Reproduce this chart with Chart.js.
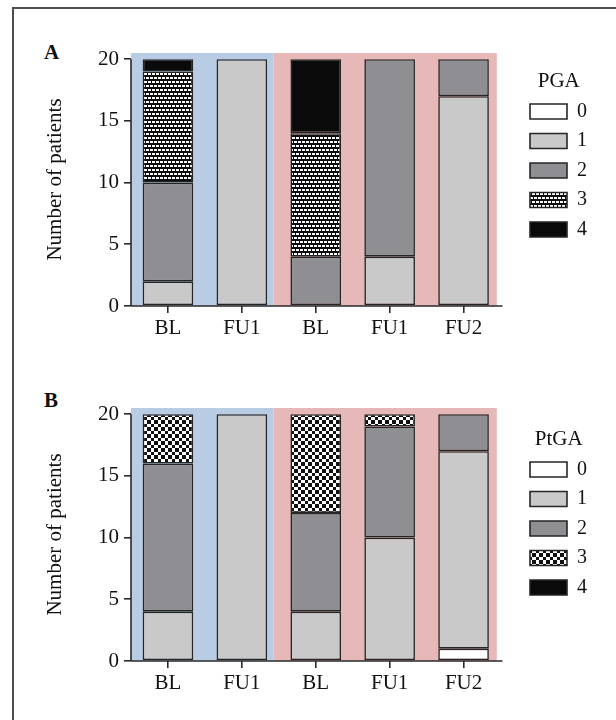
<!DOCTYPE html>
<html><head><meta charset="utf-8">
<script src="https://cdn.jsdelivr.net/npm/chart.js@4.4.0/dist/chart.umd.min.js"></script>
<style>
html,body{margin:0;padding:0;background:#fff;}
#page{position:relative;width:616px;height:720px;overflow:hidden;background:#fff;}
#frame{position:absolute;left:12px;top:7px;right:-10px;bottom:-10px;border-left:2px solid #4d4d4d;border-top:2px solid #4d4d4d;}
.lab{position:absolute;font-family:"Liberation Serif","Times New Roman",serif;font-weight:bold;font-size:21px;line-height:1;color:#111;}
canvas{position:absolute;left:0;}
</style></head><body>
<div id="page">
<div id="frame"></div>
<div class="lab" style="left:44px;top:42px">A</div>
<div class="lab" style="left:44px;top:390px">B</div>
<canvas id="cA" width="616" height="350" style="top:0;width:616px;height:350px"></canvas>
<canvas id="cB" width="616" height="370" style="top:350px;width:616px;height:370px"></canvas>
</div>
<script>
// ---- data ----
const categories = ['BL', 'FU1', 'BL', 'FU1', 'FU2'];
const levels = ['0', '1', '2', '3', '4'];
const yTicks = [0, 5, 10, 15, 20];

const pga0 = [0, 0, 0, 0, 0];
const pga1 = [2, 20, 0, 4, 17];
const pga2 = [8, 0, 4, 16, 3];
const pga3 = [9, 0, 10, 0, 0];
const pga4 = [1, 0, 6, 0, 0];

const ptga0 = [0, 0, 0, 0, 1];
const ptga1 = [4, 20, 4, 10, 16];
const ptga2 = [12, 0, 8, 9, 3];
const ptga3 = [4, 0, 8, 1, 0];
const ptga4 = [0, 0, 0, 0, 0];

// ---- styles ----
const SERIF = "'Liberation Serif', 'Times New Roman', serif";
const INK = '#111';
const LINE = '#262626';

function makePattern(w, h, draw) {
  const c = document.createElement('canvas');
  c.width = w; c.height = h;
  const g = c.getContext('2d');
  draw(g);
  return document.createElement('canvas').getContext('2d').createPattern(c, 'repeat');
}
// small white rectangles on black, offset rows (PGA level 3)
const brickPat = makePattern(8, 8, g => {
  g.fillStyle = '#0c0c0c'; g.fillRect(0, 0, 8, 8);
  g.fillStyle = '#ffffff';
  g.fillRect(0, 1, 3, 2); g.fillRect(4, 1, 3, 2);
  g.fillRect(2, 5, 3, 2); g.fillRect(6, 5, 2, 2); g.fillRect(0, 5, 1, 2);
});
// checkerboard (PtGA level 3)
const checkPat = makePattern(7, 7, g => {
  g.fillStyle = '#ffffff'; g.fillRect(0, 0, 7, 7);
  g.fillStyle = '#111111';
  g.fillRect(0, 0, 4, 4); g.fillRect(4, 4, 3, 3);
});

const bandsPlugin = {
  id: 'bands',
  beforeDatasetsDraw(chart) {
    const {ctx, chartArea, scales: {x, y}} = chart;
    const bands = [
      {from: -0.5, to: 1.43, color: '#b8cce4'},
      {from: 1.43, to: 4.45, color: '#e6b8b7'}
    ];
    ctx.save();
    bands.forEach(b => {
      const x0 = x.getPixelForValue(b.from), x1 = x.getPixelForValue(b.to);
      ctx.fillStyle = b.color;
      ctx.fillRect(x0, chartArea.top, x1 - x0, y.getPixelForValue(0) - chartArea.top);
    });
    ctx.restore();
  }
};
const axisPlugin = {
  id: 'axisLines',
  afterDatasetsDraw(chart) {
    const {ctx, chartArea, scales: {y}} = chart;
    ctx.save();
    ctx.strokeStyle = '#2a2a2a'; ctx.lineWidth = 1.6;
    ctx.beginPath();
    ctx.moveTo(chartArea.left, y.getPixelForValue(0));
    ctx.lineTo(chartArea.left, y.getPixelForValue(yTicks[yTicks.length - 1]));
    ctx.moveTo(chartArea.left, y.getPixelForValue(0));
    ctx.lineTo(chartArea.right + 2, y.getPixelForValue(0));
    ctx.stroke();
    ctx.restore();
  }
};

function makeChart(id, title, series, pat3, lay) {
  const fills = ['#ffffff', '#c9c9c9', '#8f8e93', pat3, '#0a0a0a'];
  const datasets = series.map((d, i) => ({
    label: levels[i], data: d, backgroundColor: fills[i], borderColor: LINE,
    borderWidth: c => (c.type === 'data' && !c.raw) ? 0 : 1.6,
    borderSkipped: false, barPercentage: 0.685, categoryPercentage: 1, stack: 's'
  }));
  return new Chart(document.getElementById(id), {
    type: 'bar',
    data: {labels: categories, datasets},
    options: {
      responsive: false, animation: false, events: [],
      layout: {padding: {left: 0, right: 19, top: lay.top, bottom: lay.bottom}},
      plugins: {
        tooltip: {enabled: false},
        legend: {
          position: 'right', align: 'start',
          title: {display: true, text: title, color: INK, position: 'center',
            font: {family: SERIF, size: 21, lineHeight: 1}, padding: {top: lay.titleTop, bottom: 0}},
          labels: {
            boxWidth: 37, boxHeight: 15, padding: 9.5, color: INK, font: {family: SERIF, size: 20},
            generateLabels: chart => Chart.defaults.plugins.legend.labels.generateLabels(chart)
              .map(l => Object.assign(l, {lineWidth: 1.6, strokeStyle: LINE}))
          }
        }
      },
      scales: {
        x: {
          stacked: true,
          grid: {offset: false, drawOnChartArea: false, drawTicks: true, tickLength: 7, color: '#2a2a2a', lineWidth: 1.6},
          border: {display: false},
          ticks: {color: INK, font: {family: SERIF, size: 21}, padding: 3, autoSkip: false, maxRotation: 0},
          afterFit: s => { s.height = 40; }
        },
        y: {
          stacked: true, min: 0, max: 20.5,
          grid: {drawOnChartArea: false, drawTicks: true, tickLength: 7, color: '#2a2a2a', lineWidth: 1.6},
          border: {display: false},
          ticks: {stepSize: 5, color: INK, font: {family: SERIF, size: 21}, padding: 5},
          afterBuildTicks: s => { s.ticks = yTicks.map(v => ({value: v})); },
          title: {display: true, text: 'Number of patients', color: INK, font: {family: SERIF, size: 21}, padding: {top: 43, bottom: 0}},
          afterFit: s => { s.width = 131; }
        },
        y2: {
          type: 'linear', position: 'right', display: true,
          grid: {display: false}, border: {display: false}, ticks: {display: false},
          afterFit: s => { s.width = 20; }
        }
      }
    },
    plugins: [bandsPlugin, axisPlugin]
  });
}

makeChart('cA', 'PGA', [pga0, pga1, pga2, pga3, pga4], brickPat, {top: 53, bottom: 4, titleTop: 18});
makeChart('cB', 'PtGA', [ptga0, ptga1, ptga2, ptga3, ptga4], checkPat, {top: 58, bottom: 19, titleTop: 21});
</script>
</body></html>
